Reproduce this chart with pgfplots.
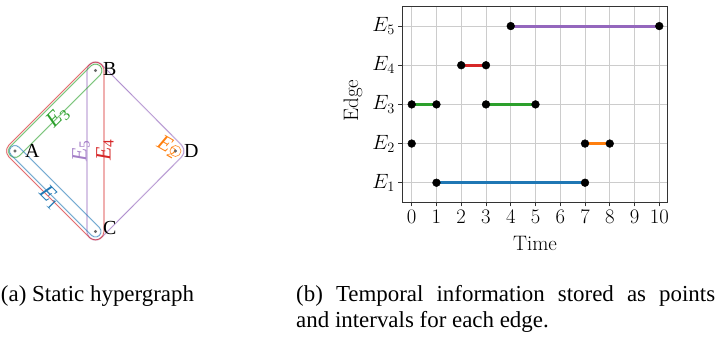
\documentclass[border=0pt]{standalone}
\usepackage{fontspec}
\usepackage{pgfplots}
\pgfplotsset{compat=1.18}
\newfontfamily\timesfont{Liberation Serif}
\definecolor{tabblue}{HTML}{1F77B4}
\definecolor{taborange}{HTML}{FF7F0E}
\definecolor{tabgreen}{HTML}{2CA02C}
\definecolor{tabred}{HTML}{D62728}
\definecolor{tabpurple}{HTML}{9467BD}
\tikzset{
  halo/.style={line width=1.8bp, opacity=0.15, line join=round},
  hull/.style={line width=0.6bp, opacity=0.75, line join=round},
}
\begin{document}
\begin{tikzpicture}
\path[use as bounding box] (0,0) rectangle (721bp,-338bp);

% ---------------- panel (a): static hypergraph ----------------
\begin{axis}[
  at={(0bp,-260bp)}, anchor=south west,
  scale only axis, width=200bp, height=220bp,
  xmin=0, xmax=200, ymin=40, ymax=260, y dir=reverse,
  hide axis, clip=false]
% E5 (B,C,D)
\addplot[tabpurple, halo] coordinates {(87.0,70.5) (88.14,66.25) (91.25,63.14) (95.5,62.0) (99.75,63.14) (101.51,64.49) (181.51,144.99) (183.71,148.80) (183.71,153.20) (181.51,157.01) (101.51,237.51) (97.70,239.71) (93.30,239.71) (89.49,237.51) (87.29,233.70) (87.0,231.5) (87.0,70.5)};
\addplot[tabpurple, hull] coordinates {(87.0,70.5) (88.14,66.25) (91.25,63.14) (95.5,62.0) (99.75,63.14) (101.51,64.49) (181.51,144.99) (183.71,148.80) (183.71,153.20) (181.51,157.01) (101.51,237.51) (97.70,239.71) (93.30,239.71) (89.49,237.51) (87.29,233.70) (87.0,231.5) (87.0,70.5)};
% E4 (A,B,C)
\addplot[tabred, halo] coordinates {(8.99,144.99) (89.49,64.49) (93.30,62.29) (97.70,62.29) (101.51,64.49) (103.71,68.30) (104.0,70.5) (104.0,231.5) (102.86,235.75) (99.75,238.86) (95.5,240.0) (91.25,238.86) (89.49,237.51) (8.99,157.01) (6.79,153.20) (6.79,148.80) (8.99,144.99)};
\addplot[tabred, hull] coordinates {(8.99,144.99) (89.49,64.49) (93.30,62.29) (97.70,62.29) (101.51,64.49) (103.71,68.30) (104.0,70.5) (104.0,231.5) (102.86,235.75) (99.75,238.86) (95.5,240.0) (91.25,238.86) (89.49,237.51) (8.99,157.01) (6.79,153.20) (6.79,148.80) (8.99,144.99)};
% E3 (A,B)
\addplot[tabgreen, halo] coordinates {(19.60,155.60) (100.10,75.10) (101.78,72.18) (101.78,68.82) (100.10,65.90) (97.18,64.22) (93.82,64.22) (90.90,65.90) (10.40,146.40) (8.72,149.32) (8.72,152.68) (10.40,155.60) (13.32,157.28) (16.68,157.28) (19.60,155.60)};
\addplot[tabgreen, hull] coordinates {(19.60,155.60) (100.10,75.10) (101.78,72.18) (101.78,68.82) (100.10,65.90) (97.18,64.22) (93.82,64.22) (90.90,65.90) (10.40,146.40) (8.72,149.32) (8.72,152.68) (10.40,155.60) (13.32,157.28) (16.68,157.28) (19.60,155.60)};
% E1 (A,C)
\addplot[tabblue, halo] coordinates {(18.89,147.11) (99.39,227.61) (100.81,230.08) (100.81,232.92) (99.39,235.39) (96.92,236.81) (94.08,236.81) (91.61,235.39) (11.11,154.89) (9.69,152.42) (9.69,149.58) (11.11,147.11) (13.58,145.69) (16.42,145.69) (18.89,147.11)};
\addplot[tabblue, hull] coordinates {(18.89,147.11) (99.39,227.61) (100.81,230.08) (100.81,232.92) (99.39,235.39) (96.92,236.81) (94.08,236.81) (91.61,235.39) (11.11,154.89) (9.69,152.42) (9.69,149.58) (11.11,147.11) (13.58,145.69) (16.42,145.69) (18.89,147.11)};
% E2 (D)
\addplot[only marks, mark=o, mark size=5.5bp, mark options={taborange, line width=0.7bp, opacity=0.8}] coordinates {(175.5,151)};
% vertices
\addplot[only marks, mark=*, mark size=1.3bp, mark options={draw=black!60, fill=black!60}] coordinates {(15,151) (95.5,70.5) (95.5,231.5) (175.5,151)};
% vertex labels
\node[anchor=west, inner sep=0, font=\timesfont\fontsize{20}{24}\selectfont] at (axis cs:25,151) {A};
\node[anchor=west, inner sep=0, font=\timesfont\fontsize{20}{24}\selectfont] at (axis cs:103,69) {B};
\node[anchor=west, inner sep=0, font=\timesfont\fontsize{20}{24}\selectfont] at (axis cs:103,227.5) {C};
\node[anchor=west, inner sep=0, font=\timesfont\fontsize{20}{24}\selectfont] at (axis cs:184,151) {D};
% edge labels
\node[rotate=45, inner sep=0, text=tabgreen, font=\timesfont\fontsize{22}{24}\selectfont] at (axis cs:58,117) {\textit{E}\textsubscript{3}};
\node[rotate=-45, inner sep=0, text=tabblue, font=\timesfont\fontsize{22}{24}\selectfont] at (axis cs:50,197) {\textit{E}\textsubscript{1}};
\node[rotate=90, inner sep=0, text=tabpurple!85, font=\timesfont\fontsize{22}{24}\selectfont] at (axis cs:81,151) {\textit{E}\textsubscript{5}};
\node[rotate=90, inner sep=0, text=tabred, font=\timesfont\fontsize{22}{24}\selectfont] at (axis cs:105,150) {\textit{E}\textsubscript{4}};
\node[rotate=-30, inner sep=0, text=taborange, font=\timesfont\fontsize{22}{24}\selectfont] at (axis cs:168,147) {\textit{E}\textsubscript{2}};
\end{axis}

% ---------------- panel (b): temporal information ----------------
\begin{axis}[
  at={(402.3bp,-202.3bp)}, anchor=south west,
  scale only axis, width=265.4bp, height=195.8bp,
  xmin=-0.38, xmax=10.34, ymin=0.5, ymax=5.5,
  xtick={0,1,2,3,4,5,6,7,8,9,10},
  ytick={1,2,3,4,5},
  yticklabels={$E_1$,$E_2$,$E_3$,$E_4$,$E_5$},
  grid=major,
  major grid style={black!20, line width=0.9bp},
  axis line style={black!80, line width=0.8bp},
  tick align=outside, tick pos=left,
  major tick length=4bp,
  tick style={black!80, line width=0.8bp},
  tick label style={font=\fontsize{20}{23}\selectfont},
  xlabel={Time}, ylabel={Edge},
  xlabel style={font=\fontsize{21}{24}\selectfont, at={(axis description cs:0.5,-0.208)}, anchor=center},
  ylabel style={font=\fontsize{21}{24}\selectfont, at={(axis description cs:-0.186,0.52)}, anchor=center},
  clip=false]
\addplot[tabblue, line width=3bp] coordinates {(1,1) (7,1)};
\addplot[taborange, line width=3bp] coordinates {(7,2) (8,2)};
\addplot[tabgreen, line width=3bp] coordinates {(0,3) (1,3)};
\addplot[tabgreen, line width=3bp] coordinates {(3,3) (5,3)};
\addplot[tabred, line width=3bp] coordinates {(2,4) (3,4)};
\addplot[tabpurple, line width=3bp] coordinates {(4,5) (10,5)};
\addplot[only marks, mark=*, mark size=3.9bp, mark options={draw=black, fill=black}] coordinates {
  (1,1) (7,1) (0,2) (7,2) (8,2) (0,3) (1,3) (3,3) (5,3) (2,4) (3,4) (4,5) (10,5)};
\end{axis}

% ---------------- captions ----------------
\node[anchor=base west, inner sep=0, font=\timesfont\fontsize{23}{25.5}\selectfont] at (0.8bp,-301bp) {(a) Static hypergraph};
\node[anchor=base west, inner sep=0, font=\timesfont\fontsize{23}{25.5}\selectfont] at (296bp,-301.5bp) {\makebox[419bp][s]{(b) Temporal information stored as points}};
\node[anchor=base west, inner sep=0, font=\timesfont\fontsize{23}{25.5}\selectfont] at (296bp,-327bp) {and intervals for each edge.};
\end{tikzpicture}
\end{document}
